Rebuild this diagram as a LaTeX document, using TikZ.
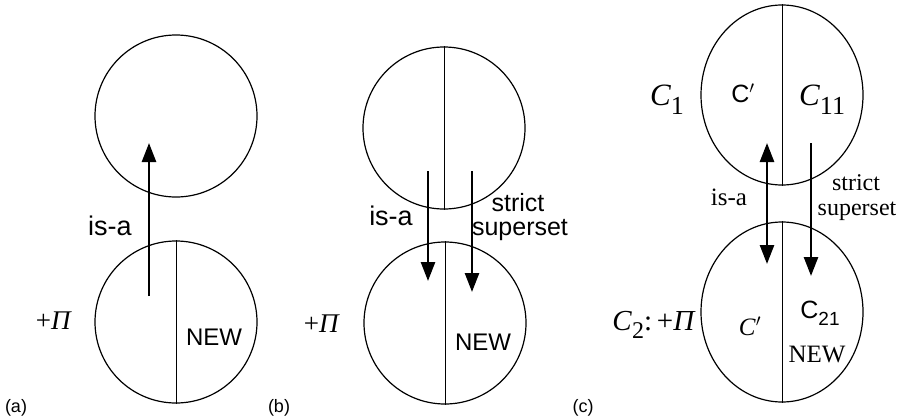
\documentclass[tikz,border=0pt]{standalone}
\usepackage{fontspec}
\setmainfont{Liberation Serif}
\setsansfont{Liberation Sans}
\usetikzlibrary{arrows.meta,shapes.geometric}
\newcommand{\sfsz}[1]{\sffamily\fontsize{#1}{#1}\selectfont}
\newcommand{\rmsz}[1]{\rmfamily\fontsize{#1}{#1}\selectfont}
\begin{document}
\begin{tikzpicture}[x=1pt,y=-1pt,
  set/.style={draw,circle,line width=1.2pt,minimum size=162pt,inner sep=0pt},
  eset/.style={draw,ellipse,line width=1.2pt,minimum width=162pt,minimum height=180pt,inner sep=0pt},
  divider/.style={line width=1pt},
  rel/.style={line width=2.6pt,-{Triangle[width=14pt,length=19pt]}},
  birel/.style={line width=2.6pt,{Triangle[width=14pt,length=19pt]}-{Triangle[width=14pt,length=19pt]}},
  lbl/.style={inner sep=0pt,anchor=center}]
\useasboundingbox (0,0) rectangle (899,420);
% ---------- (a)
\node[set] (aT) at (176,116) {};
\node[set] (aB) at (176,322) {};
\draw[divider] (aB.north) -- (aB.south);
\coordinate (aTail) at (149,296);
\coordinate (aTip) at (149,143);
\draw[rel] (aTail) -- (aTip);
\node[lbl,font=\sfsz{27}] (aisa) at (110,226) {is-a};
\node[lbl,font=\rmsz{27}] (api) at (54,321) {+\textit{Π}};
\node[lbl,font=\sfsz{24}] (anew) at (214,337) {NEW};
\node[lbl,font=\sfsz{18}] (la) at (16,408) {(a)};
% ---------- (b)
\node[set] (bT) at (444,128) {};
\node[set] (bB) at (445,323) {};
\draw[divider] (bT.north) -- (bT.south);
\draw[divider] (bB.north) -- (bB.south);
\coordinate (bL1) at (428,171);
\coordinate (bL2) at (428,281);
\coordinate (bR1) at (472,171);
\coordinate (bR2) at (472,292);
\draw[rel] (bL1) -- (bL2);
\draw[rel] (bR1) -- (bR2);
\node[lbl,font=\sfsz{27}] (bisa) at (391,216) {is-a};
\node[lbl,font=\sfsz{25}] (bstrict) at (518,203) {strict};
\node[lbl,font=\sfsz{25}] (bsuper) at (520,230) {superset};
\node[lbl,font=\rmsz{27}] (bpi) at (322,324) {+\textit{Π}};
\node[lbl,font=\sfsz{24}] (bnew) at (483,342) {NEW};
\node[lbl,font=\sfsz{18}] (lb) at (279,408) {(b)};
% ---------- (c)
\node[eset] (cT) at (782,95) {};
\node[eset] (cB) at (782,312) {};
\draw[divider] (cT.north) -- (cT.south);
\draw[divider] (cB.north) -- (cB.south);
\coordinate (cL1) at (767,143);
\coordinate (cL2) at (767,264);
\coordinate (cR1) at (811,143);
\coordinate (cR2) at (811,276);
\draw[birel] (cL1) -- (cL2);
\draw[rel] (cR1) -- (cR2);
\node[lbl,font=\rmsz{31}] (c1) at (667,100) {\textit{C}\raisebox{-9pt}{\fontsize{26}{26}\selectfont 1}};
\node[lbl,font=\rmsz{31}] (c11) at (822,100) {\textit{C}\raisebox{-9pt}{\fontsize{26}{26}\selectfont 11}};
\node[lbl,font=\sfsz{25}] (cprime) at (743,93) {C$'$};
\node[lbl,font=\rmsz{25}] (cisa) at (729,197) {is-a};
\node[lbl,font=\rmsz{24}] (cstrict) at (856,183) {strict};
\node[lbl,font=\rmsz{24}] (csuper) at (857,211) {superset};
\node[lbl,font=\rmsz{29}] (c2) at (654,325) {\textit{C}\raisebox{-8pt}{\fontsize{24}{24}\selectfont 2}:\,+\textit{Π}};
\node[lbl,font=\rmsz{25}] (cpp) at (750,326) {\textit{C}$'$};
\node[lbl,font=\sfsz{25}] (c21) at (820,313) {C\raisebox{-7pt}{\fontsize{19}{19}\selectfont 21}};
\node[lbl,font=\rmsz{25}] (cnew) at (817,355) {NEW};
\node[lbl,font=\sfsz{18}] (lc) at (583,408) {(c)};
\end{tikzpicture}
\end{document}
